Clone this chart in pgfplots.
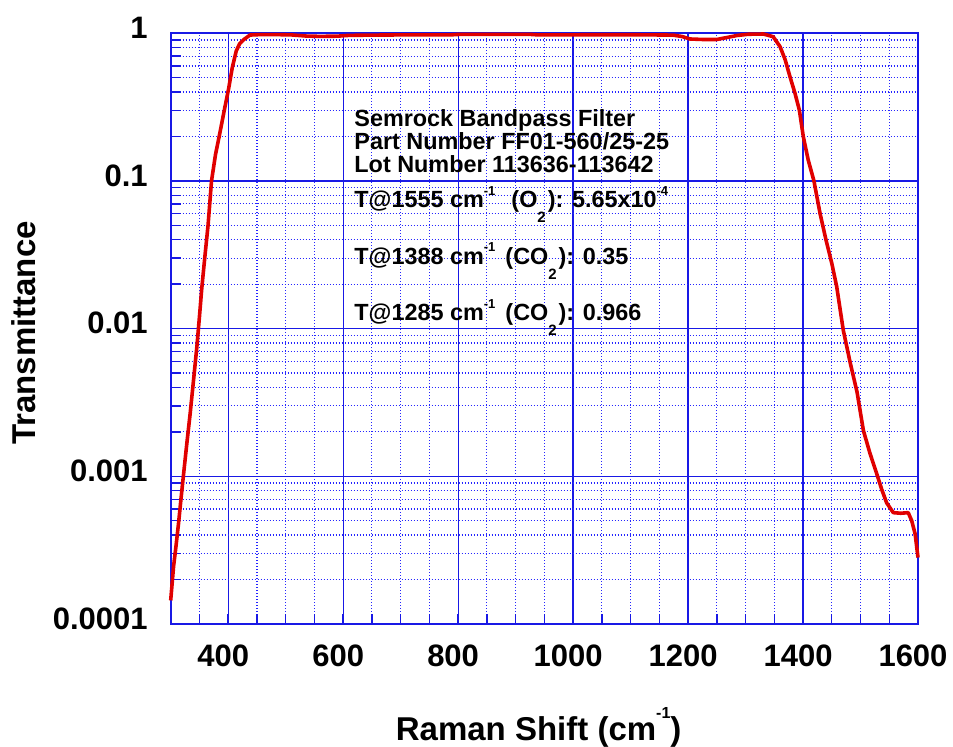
\documentclass[border=0pt]{standalone}
\usepackage{fontspec}
\setmainfont{Liberation Sans}
\usepackage{pgfplots}
\pgfplotsset{compat=1.18}
\usepackage{pgfplotstable}
\definecolor{gridblue}{rgb}{0.1,0.1,0.9}
\definecolor{curvered}{rgb}{0.88,0,0}
\pgfplotstableread{
x y
300 1.445e-4
305 2.455e-4
309 3.311e-4
313.6 4.786e-4
317.7 6.918e-4
322 1.0e-3
328 1.660e-3
334 2.692e-3
339.7 4.467e-3
345.6 7.586e-3
350 0.01202
354 0.01862
359 0.02951
365 0.05012
371 0.1
378 0.1514
385 0.2061
394 0.3119
401 0.4266
407 0.5821
414 0.7586
420 0.8511
427 0.9057
438 0.9727
450 0.978
480 0.980
510 0.975
537 0.957
560 0.953
590 0.956
610 0.968
650 0.972
700 0.975
786 0.975
800 0.982
850 0.982
927 0.982
940 0.975
1000 0.975
1021 0.978
1100 0.978
1174 0.972
1190 0.950
1203 0.915
1225 0.908
1250 0.908
1270 0.940
1285 0.966
1305 0.985
1331 0.9886
1348 0.9484
1360 0.8128
1369 0.6607
1377 0.5129
1386 0.3926
1393.6 0.3020
1400.5 0.1995
1409 0.1387
1419 0.1
1429.6 0.06026
1440 0.03981
1450 0.02773
1458.6 0.01923
1470 9.772e-3
1482 5.888e-3
1494 3.715e-3
1505 2.042e-3
1516.5 1.429e-3
1528 1.047e-3
1537 8.128e-4
1545.5 6.607e-4
1557 5.675e-4
1570 5.623e-4
1583 5.675e-4
1589 5.012e-4
1595 4.074e-4
1600 2.818e-4
}\filterdata
\begin{document}
\begin{tikzpicture}
\useasboundingbox (-85.35pt,-61.5pt) rectangle (391.15pt,312pt);
\begin{axis}[
  at={(0,0)}, anchor=south west,
  scale only axis, width=373.65pt, height=295.35pt,
  xmin=300, xmax=1600, ymode=log, ymin=1e-4, ymax=1,
  xtick={400,600,800,1000,1200,1400,1600},
  xticklabels={400,600,800,1000,1200,1400,1600},
  minor xtick={350,450,500,550,650,700,750,850,900,950,1050,1100,1150,1250,1300,1350,1450,1500,1550},
  ytick={1e-4,1e-3,1e-2,1e-1,1},
  yticklabels={0.0001,0.001,0.01,0.1,1},
  minor ytick={2e-4,3e-4,4e-4,5e-4,6e-4,7e-4,8e-4,9e-4,
               2e-3,3e-3,4e-3,5e-3,6e-3,7e-3,8e-3,9e-3,
               2e-2,3e-2,4e-2,5e-2,6e-2,7e-2,8e-2,9e-2,
               2e-1,3e-1,4e-1,5e-1,6e-1,7e-1,8e-1,9e-1},
  grid=both,
  major grid style={gridblue, line width=0.6pt},
  minor grid style={blue!85, line width=0.6pt, dash pattern=on 0.6pt off 0.9pt},
  axis line style={gridblue, line width=0.9pt},
  tick style={gridblue, line width=0.7pt},
  major tick length=5pt, minor tick length=5pt,
  tick align=inside, tick pos=left,
  xticklabel style={font=\fontsize{15.5}{18}\selectfont\bfseries, anchor=center, yshift=-16pt, xshift=-2.5pt},
  yticklabel style={font=\fontsize{15.5}{18}\selectfont\bfseries, anchor=east, inner sep=0pt, xshift=-11.3pt, yshift=2.75pt},
  xlabel={Raman Shift (cm\raisebox{11pt}{\fontsize{8}{9}\selectfont -1})},
  ylabel={Transmittance},
  xlabel style={font=\fontsize{16.5}{19}\selectfont\bfseries, at={(rel axis cs:0.4924,-0.19638)}, anchor=base, inner sep=0pt},
  ylabel style={font=\fontsize{16.5}{19}\selectfont\bfseries, at={(rel axis cs:-0.18025,0.4926)}, anchor=base, inner sep=0pt},
  clip=false,
]
\addplot[curvered, line width=1.8pt, line join=round] table[x=x,y=y] {\filterdata};
\begin{scope}[every node/.style={anchor=base west, inner sep=0pt, font=\fontsize{11.7}{14}\selectfont\bfseries}]
\node at (rel axis cs:0.2453,0.8419) {Semrock Bandpass Filter};
\node at (rel axis cs:0.2453,0.8036) {Part Number FF01-560/25-25};
\node at (rel axis cs:0.2453,0.7640) {Lot Number 113636-113642};
\node at (rel axis cs:0.2453,0.7052) {T@1555 cm\raisebox{6.2pt}{\fontsize{6.5}{7}\selectfont -1}\hspace{8pt}(O\raisebox{-7.5pt}{\fontsize{7.5}{8}\selectfont 2}\hspace{1pt}): 5.65x10\raisebox{6.2pt}{\fontsize{6.5}{7}\selectfont -4}};
\node at (rel axis cs:0.2453,0.6094) {T@1388 cm\raisebox{6.2pt}{\fontsize{6.5}{7}\selectfont -1}\hspace{5pt}(CO\raisebox{-7.5pt}{\fontsize{7.5}{8}\selectfont 2}\hspace{1pt}): 0.35};
\node at (rel axis cs:0.2453,0.5133) {T@1285 cm\raisebox{6.2pt}{\fontsize{6.5}{7}\selectfont -1}\hspace{5pt}(CO\raisebox{-7.5pt}{\fontsize{7.5}{8}\selectfont 2}\hspace{1pt}): 0.966};
\end{scope}
\end{axis}
\end{tikzpicture}
\end{document}
